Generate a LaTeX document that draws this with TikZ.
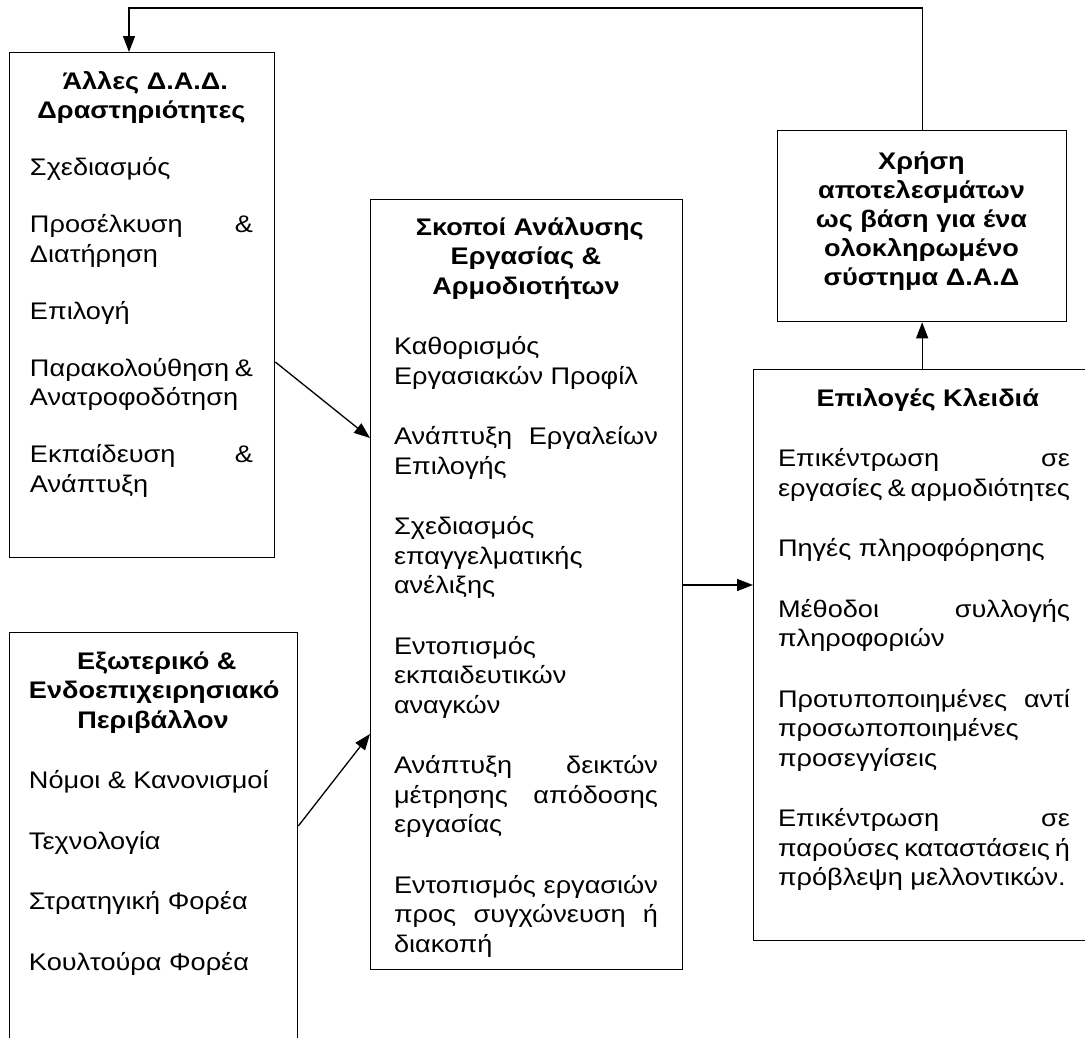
\documentclass[tikz,border=0pt]{standalone}
\usepackage{fontspec}
\setmainfont{Liberation Sans}[FakeStretch=1.13]
\usetikzlibrary{arrows.meta}
\newcommand\sz[1]{\fontsize{24}{29.5}\selectfont\setlength{\parskip}{#1}\setlength{\parindent}{0pt}\spaceskip=7.5pt plus 4pt minus 1pt\relax}
\newcommand\bxtitle[1]{{\centering\bfseries #1\par}}
\begin{document}
\begin{tikzpicture}[x=1pt,y=-1pt,
  frame/.style={draw,line width=1.3pt,inner sep=0pt,anchor=north west},
  txt/.style={inner sep=0pt,anchor=base,align=left},
  conn/.style={line width=1.3pt,-{Triangle[length=16pt,width=12pt]}},
]
\useasboundingbox (0,0) rectangle (1085,1037);
\clip (0,0) rectangle (1085,1037);
% boxes
\node[frame,minimum width=265pt,minimum height=505pt] (b1) at (9,52) {};
\node[frame,minimum width=288pt,minimum height=460pt] (b2) at (9,632) {};
\node[frame,minimum width=312pt,minimum height=770pt] (mid) at (370,199) {};
\node[frame,minimum width=289pt,minimum height=191pt] (use) at (777,130) {};
\node[frame,minimum width=345pt,minimum height=571pt] (key) at (753,369) {};
% texts
\node[txt,text width=223pt] (b1t) at (141.5,89) {\sz{27.5pt}
\bxtitle{Άλλες Δ.Α.Δ.\\Δραστηριότητες}
Σχεδιασμός\par
Προσέλκυση\hfill\&\\Διατήρηση\par
Επιλογή\par
Παρακολούθηση\hfill\&\\Ανατροφοδότηση\par
Εκπαίδευση\hfill\&\\Ανάπτυξη\par};
\node[txt,text width=248pt] (b2t) at (153,669) {\sz{31pt}
\bxtitle{Εξωτερικό \&\\Ενδοεπιχειρησιακό\\Περιβάλλον}
Νόμοι \& Κανονισμοί\par
Τεχνολογία\par
Στρατηγική Φορέα\par
Κουλτούρα Φορέα\par};
\node[txt,text width=264pt] (midt) at (526,235) {\sz{31pt}
\bxtitle{Σκοποί Ανάλυσης\\Εργασίας \&\\Αρμοδιοτήτων}
Καθορισμός\\Εργασιακών Προφίλ\par
Ανάπτυξη\hfill Εργαλείων\\Επιλογής\par
Σχεδιασμός\\επαγγελματικής\\ανέλιξης\par
Εντοπισμός\\εκπαιδευτικών\\αναγκών\par
Ανάπτυξη\hfill δεικτών\\μέτρησης\hfill απόδοσης\\εργασίας\par
Εντοπισμός\hfill εργασιών\\προς\hfill συγχώνευση\hfill ή\\διακοπή\par};
\node[txt,text width=270pt] (uset) at (921.5,169) {\fontsize{24}{29}\selectfont\spaceskip=7.5pt plus 4pt minus 1pt\relax
\bxtitle{Χρήση\\αποτελεσμάτων\\ως βάση για ένα\\ολοκληρωμένο\\σύστημα Δ.Α.Δ}};
\node[txt,text width=292pt] (keyt) at (924,406) {\sz{31pt}
\bxtitle{Επιλογές Κλειδιά}
Επικέντρωση\hfill σε\\εργασίες\hfill\&\hfill αρμοδιότητες\par
Πηγές πληροφόρησης\par
Μέθοδοι\hfill συλλογής\\πληροφοριών\par
Προτυποποιημένες\hfill αντί\\προσωποποιημένες\\προσεγγίσεις\par
Επικέντρωση\hfill σε\\παρούσες\hfill καταστάσεις\hfill ή\\πρόβλεψη μελλοντικών.\par};
% connectors
\coordinate (fb) at (129,8);
\draw[conn] (use.north) |- (fb) -- (fb |- b1.north);
\draw[conn] ([yshift=-310pt]b1.north east) -- ([yshift=-239pt]mid.north west);
\draw[conn] ([yshift=-194pt]b2.north east) -- ([yshift=-535pt]mid.north west);
\draw[conn] ([yshift=-386pt]mid.north east) coordinate (m1) -- (key.west |- m1);
\draw[conn] (use.south |- key.north) -- (use.south);
\end{tikzpicture}
\end{document}
